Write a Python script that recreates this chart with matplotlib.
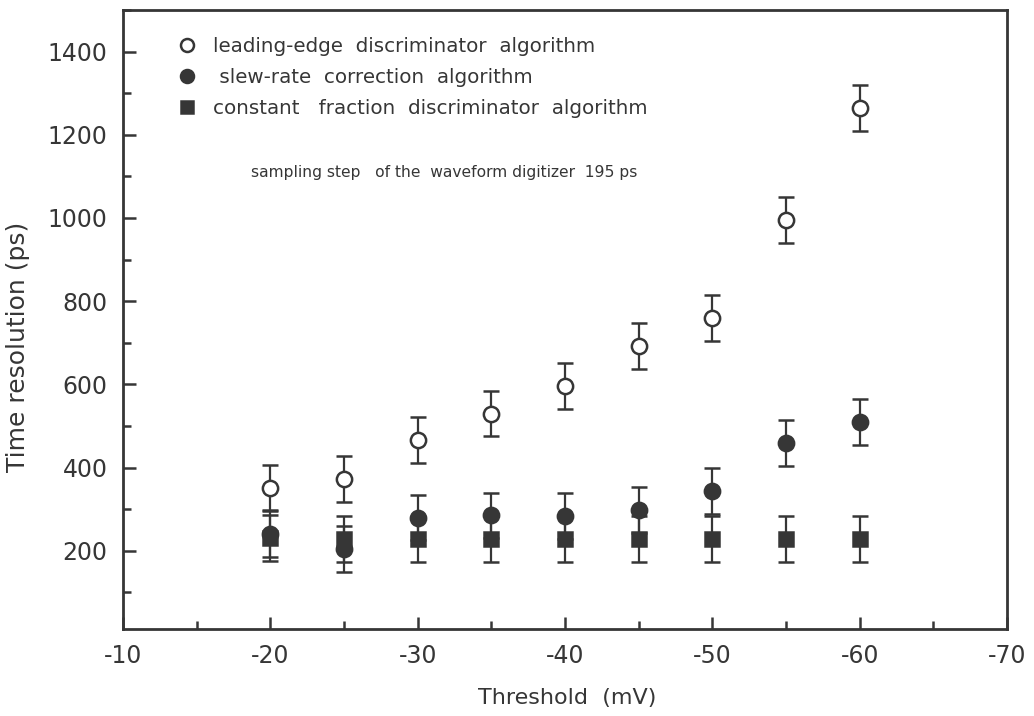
import matplotlib
matplotlib.use('Agg')
import matplotlib.pyplot as plt
from matplotlib.ticker import MultipleLocator

plt.rcParams['font.family'] = ['DejaVu Sans']
plt.rcParams['axes.unicode_minus'] = False

INK = '#363636'

thresholds = [-20, -25, -30, -35, -40, -45, -50, -55, -60]

leading_edge = [352, 373, 467, 530, 597, 693, 760, 995, 1265]
leading_edge_err = [55, 55, 55, 55, 55, 55, 55, 55, 55]

slew_rate = [240, 205, 280, 285, 283, 298, 343, 460, 510]
slew_rate_err = [55, 55, 55, 55, 55, 55, 55, 55, 55]

cfd = [230, 228, 228, 228, 228, 228, 228, 228, 228]
cfd_err = [55, 55, 55, 55, 55, 55, 55, 55, 55]

labels = ['leading-edge  discriminator  algorithm',
          ' slew-rate  correction  algorithm',
          'constant   fraction  discriminator  algorithm']


fig = plt.figure(figsize=(10.34, 7.16), dpi=100)
ax = fig.add_axes([123 / 1034, 1 - 629 / 716, (1007 - 123) / 1034, (629 - 10) / 716])

common = dict(color=INK, ecolor=INK, elinewidth=1.6, capsize=6, capthick=1.6,
              linestyle='none', markeredgewidth=1.8)

ax.errorbar(thresholds, cfd, yerr=cfd_err, marker='s', markersize=10,
            markerfacecolor=INK, label=labels[2], **common)
ax.errorbar(thresholds, slew_rate, yerr=slew_rate_err, marker='o', markersize=11,
            markerfacecolor=INK, label=labels[1], **common)
ax.errorbar(thresholds, leading_edge, yerr=leading_edge_err, marker='o', markersize=11,
            markerfacecolor='white', label=labels[0], **common)

ax.set_xlim(-10, -70)
ax.set_ylim(12, 1500)
ax.xaxis.set_major_locator(MultipleLocator(10))
ax.xaxis.set_minor_locator(MultipleLocator(5))
ax.yaxis.set_major_locator(MultipleLocator(200))
ax.yaxis.set_minor_locator(MultipleLocator(100))
ax.set_yticks([200, 400, 600, 800, 1000, 1200, 1400])

ax.tick_params(which='both', direction='in', top=False, right=False,
               colors=INK, labelsize=17, width=1.8)
ax.tick_params(which='major', length=9, pad=11)
ax.tick_params(which='minor', length=6)
for s in ax.spines.values():
    s.set_color(INK)
    s.set_linewidth(2)

ax.set_xlabel('Threshold  (mV)', fontsize=16, color=INK)
ax.xaxis.set_label_coords(0.502, -0.095)
ax.set_ylabel('Time resolution (ps)', fontsize=18, color=INK)
ax.yaxis.set_label_coords(-0.105, 0.456)

ax.text(0.145, 0.738, 'sampling step   of the  waveform digitizer  195 ps',
        transform=ax.transAxes, fontsize=11.2, color=INK, va='center')

handles, labs = ax.get_legend_handles_labels()
order = [2, 1, 0]
leg = ax.legend([handles[i][0] for i in order], [labs[i] for i in order],
                loc='upper left', bbox_to_anchor=(0.04, 0.985), frameon=False,
                fontsize=14.3, handletextpad=0.75, labelspacing=0.6,
                handlelength=1.1, markerscale=0.85)
for t in leg.get_texts():
    t.set_color(INK)

fig.savefig('out.png', dpi=100)
